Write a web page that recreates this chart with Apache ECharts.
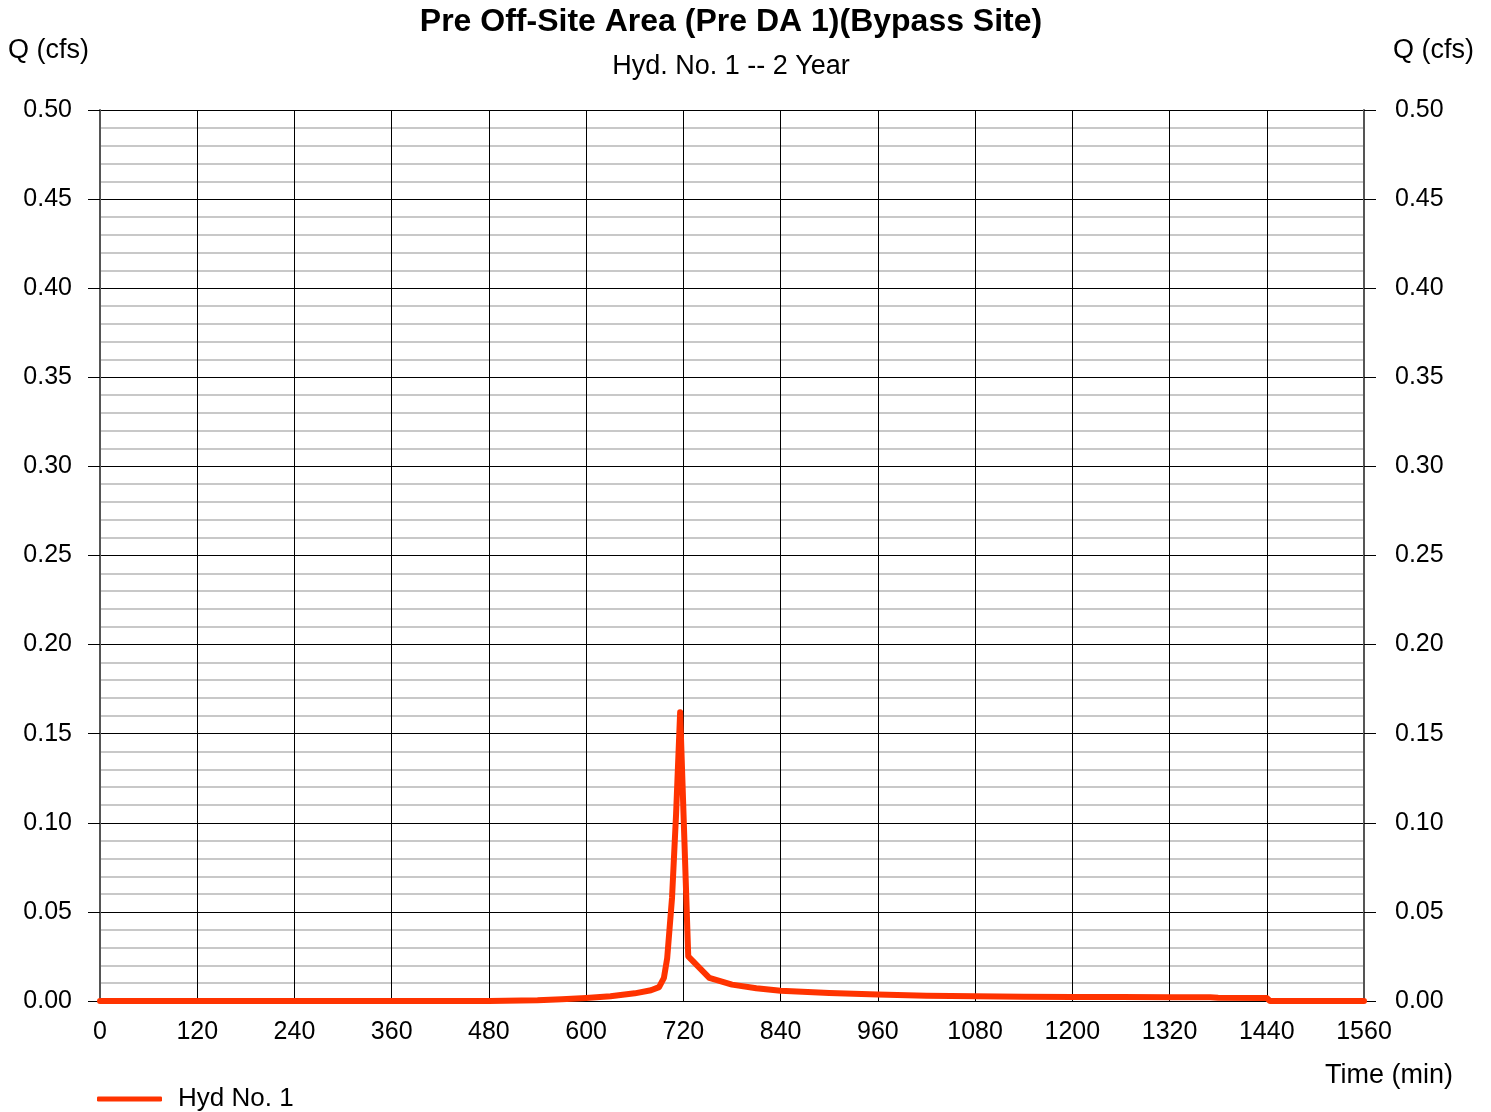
<!DOCTYPE html>
<html>
<head>
<meta charset="utf-8">
<style>
  html, body { margin: 0; padding: 0; background: #ffffff; }
  #chart { width: 1491px; height: 1112px; }
</style>
<script src="https://cdn.jsdelivr.net/npm/echarts@6/dist/echarts.min.js"></script>
</head>
<body>
<div id="chart"></div>
<script>
// Hydrograph ordinates: time (min) and discharge Q (cfs)
const times = [0, 480, 540, 570, 600, 630, 660, 680, 690, 696, 700, 706, 711, 716, 726, 752, 780, 810, 840, 900, 960, 1020, 1080, 1140, 1200, 1260, 1320, 1370, 1380, 1440, 1444, 1560];
const flows = [0, 0, 0.0004, 0.0010, 0.0017, 0.0027, 0.0043, 0.0060, 0.0078, 0.013, 0.024, 0.058, 0.105, 0.162, 0.025, 0.013, 0.0092, 0.0072, 0.0057, 0.0045, 0.0036, 0.0030, 0.0026, 0.0024, 0.0022, 0.0022, 0.0021, 0.0021, 0.0018, 0.0017, 0, 0];

const xTicks = { min: 0, max: 1560, interval: 120 };
const yTicks = { min: 0, max: 0.5, interval: 0.05 };

const titleText = 'Pre Off-Site Area (Pre DA 1)(Bypass Site)';
const subtitleText = 'Hyd. No. 1 -- 2 Year';
const seriesName = 'Hyd No. 1';

const FONT = 'Liberation Sans, Arial, sans-serif';
const chart = echarts.init(document.getElementById('chart'));

const yAxisBase = {
  type: 'value',
  min: yTicks.min,
  max: yTicks.max,
  interval: yTicks.interval,
  axisLabel: {
    fontFamily: FONT, fontSize: 25, color: '#000',
    padding: [10, 0, 0, 0],
    formatter: v => v.toFixed(2)
  },
  axisTick: { show: true, inside: false, length: 12, lineStyle: { color: '#000', width: 1 } }
};

chart.setOption({
  animation: false,
  backgroundColor: '#ffffff',
  grid: { left: 100, right: 127, top: 110, bottom: 111, containLabel: false },
  xAxis: {
    type: 'value',
    min: xTicks.min,
    max: xTicks.max,
    interval: xTicks.interval,
    axisLine: { show: true, lineStyle: { color: '#000', width: 1 } },
    axisTick: { show: false },
    axisLabel: { fontFamily: FONT, fontSize: 25, color: '#000', margin: 19, formatter: v => String(v) },
    splitLine: { show: true, lineStyle: { color: '#000', width: 1 } }
  },
  yAxis: [
    Object.assign({}, yAxisBase, {
      position: 'left',
      axisLine: { show: true, lineStyle: { color: '#555', width: 2 } },
      axisLabel: Object.assign({}, yAxisBase.axisLabel, { margin: 28 }),
      splitLine: { show: true, lineStyle: { color: '#000', width: 1 } },
      minorTick: { show: false, splitNumber: 5 },
      minorSplitLine: { show: true, lineStyle: { color: '#c8c8c8', width: 2 } }
    }),
    Object.assign({}, yAxisBase, {
      position: 'right',
      axisLine: { show: true, lineStyle: { color: '#555', width: 2 } },
      axisLabel: Object.assign({}, yAxisBase.axisLabel, { margin: 31 }),
      splitLine: { show: false }
    })
  ],
  legend: {
    left: 92, top: 1081,
    icon: 'roundRect',
    itemWidth: 65, itemHeight: 5,
    textStyle: { fontFamily: FONT, fontSize: 26, color: '#000', padding: [0, 0, 0, 11] },
    data: [seriesName]
  },
  graphic: [
    { type: 'text', x: 731, y: 22, style: { text: titleText, font: 'bold 32px ' + FONT, fill: '#000', textAlign: 'center', textVerticalAlign: 'middle' } },
    { type: 'text', x: 731, y: 67, style: { text: subtitleText, font: '27px ' + FONT, fill: '#000', textAlign: 'center', textVerticalAlign: 'middle' } },
    { type: 'text', x: 8, y: 51, style: { text: 'Q (cfs)', font: '27px ' + FONT, fill: '#000', textAlign: 'left', textVerticalAlign: 'middle' } },
    { type: 'text', x: 1474, y: 51, style: { text: 'Q (cfs)', font: '27px ' + FONT, fill: '#000', textAlign: 'right', textVerticalAlign: 'middle' } },
    { type: 'text', x: 1453, y: 1076, style: { text: 'Time (min)', font: '27px ' + FONT, fill: '#000', textAlign: 'right', textVerticalAlign: 'middle' } }
  ],
  series: [{
    name: seriesName,
    type: 'line',
    yAxisIndex: 0,
    showSymbol: false,
    smooth: false,
    color: '#ff3300',
    lineStyle: { color: '#ff3300', width: 6, cap: 'round', join: 'round' },
    data: times.map((t, i) => [t, flows[i]]),
    z: 5
  }]
});
</script>
</body>
</html>
